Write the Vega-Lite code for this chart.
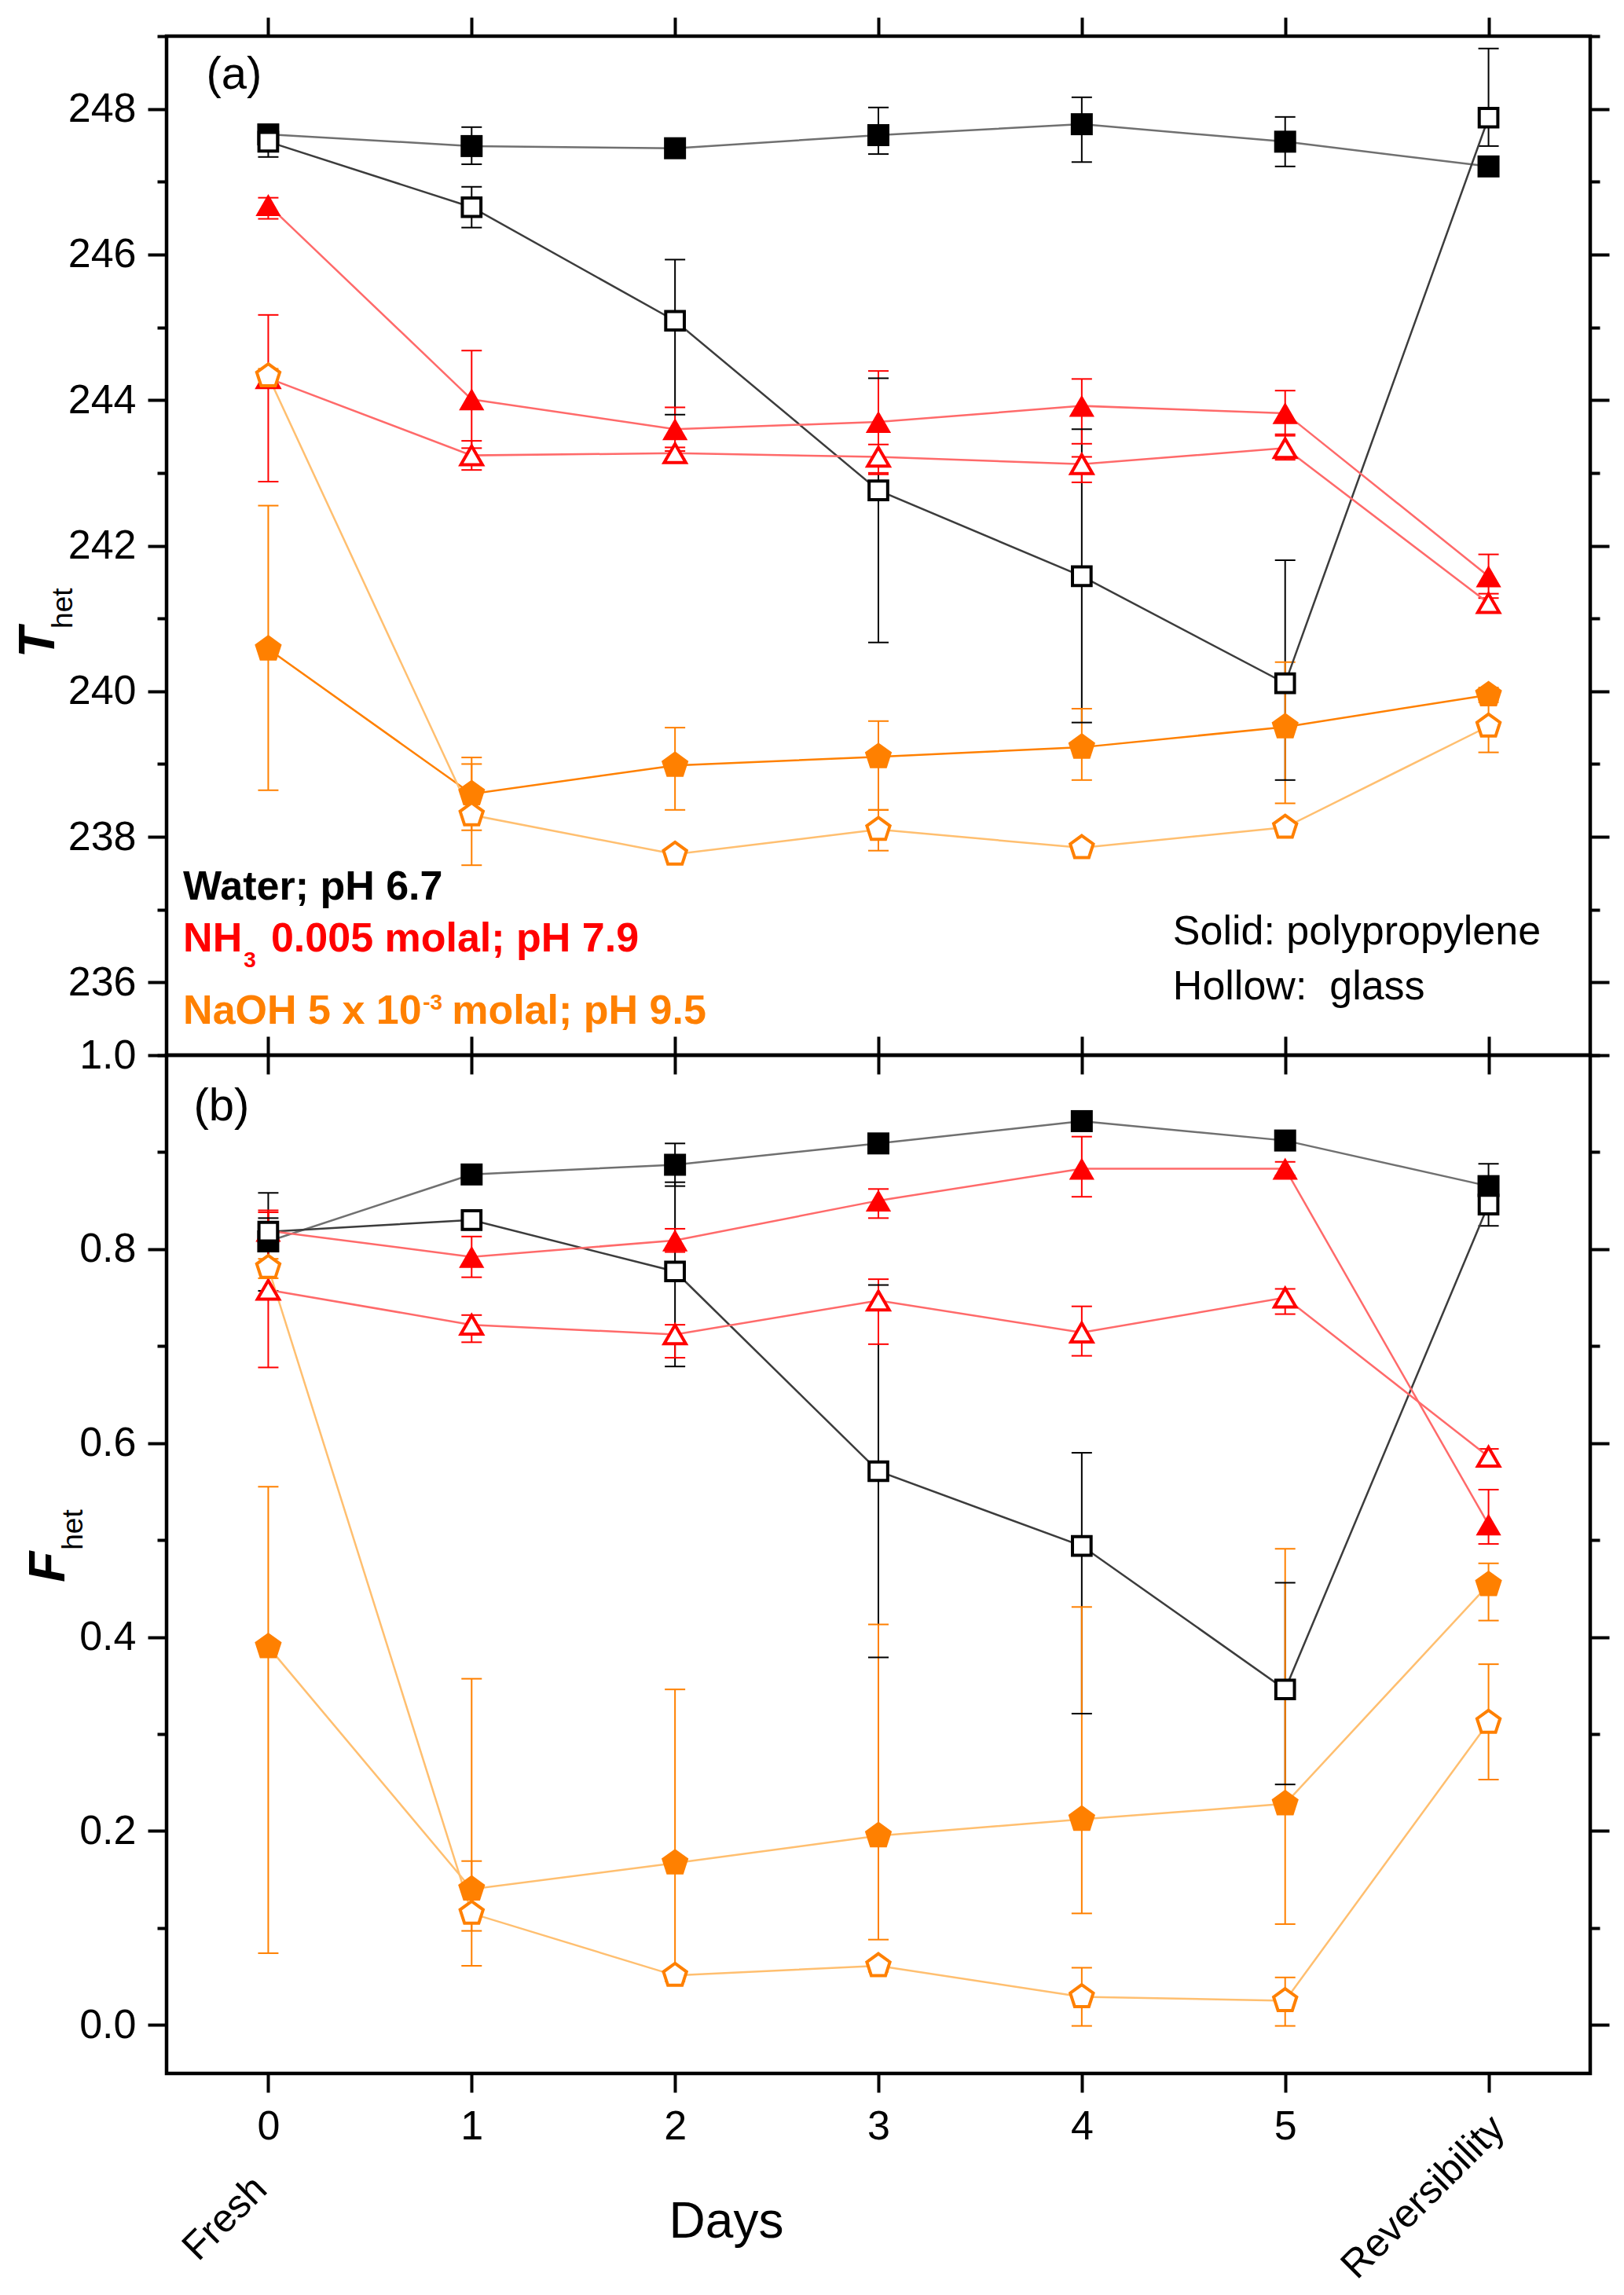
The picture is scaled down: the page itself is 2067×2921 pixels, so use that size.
{
  "$schema": "https://vega.github.io/schema/vega-lite/v6.json",
  "padding": {"left": 15, "top": 17, "right": 10, "bottom": 10},
  "background": "white",
  "config": {
    "font": "Liberation Sans",
    "view": {"stroke": "black", "strokeWidth": 4.5},
    "axis": {"labelFont": "Liberation Sans", "labelColor": "black", "tickColor": "black", "grid": false, "domain": false, "labelOverlap": false, "labelFlush": false, "labelBound": false}
  },
  "datasets": {
    "a": [
      {"x": 0, "s": "water", "m": "pp", "id": "water-pp", "v": 247.65, "lo": 247.55, "hi": 247.75},
      {"x": 1, "s": "water", "m": "pp", "id": "water-pp", "v": 247.49, "lo": 247.24, "hi": 247.75},
      {"x": 2, "s": "water", "m": "pp", "id": "water-pp", "v": 247.46, "lo": 247.41, "hi": 247.51},
      {"x": 3, "s": "water", "m": "pp", "id": "water-pp", "v": 247.64, "lo": 247.38, "hi": 248.02},
      {"x": 4, "s": "water", "m": "pp", "id": "water-pp", "v": 247.79, "lo": 247.27, "hi": 248.16},
      {"x": 5, "s": "water", "m": "pp", "id": "water-pp", "v": 247.55, "lo": 247.21, "hi": 247.89},
      {"x": 6, "s": "water", "m": "pp", "id": "water-pp", "v": 247.21, "lo": 247.16, "hi": 247.26},
      {"x": 0, "s": "water", "m": "glass", "id": "water-glass", "v": 247.55, "lo": 247.34, "hi": 247.7},
      {"x": 1, "s": "water", "m": "glass", "id": "water-glass", "v": 246.65, "lo": 246.37, "hi": 246.93},
      {"x": 2, "s": "water", "m": "glass", "id": "water-glass", "v": 245.09, "lo": 243.8, "hi": 245.93},
      {"x": 3, "s": "water", "m": "glass", "id": "water-glass", "v": 242.76, "lo": 240.67, "hi": 244.3},
      {"x": 4, "s": "water", "m": "glass", "id": "water-glass", "v": 241.58, "lo": 239.57, "hi": 243.6},
      {"x": 5, "s": "water", "m": "glass", "id": "water-glass", "v": 240.11, "lo": 238.78, "hi": 241.8},
      {"x": 6, "s": "water", "m": "glass", "id": "water-glass", "v": 247.88, "lo": 247.49, "hi": 248.83},
      {"x": 0, "s": "nh3", "m": "pp", "id": "nh3-pp", "v": 246.68, "lo": 246.49, "hi": 246.78},
      {"x": 1, "s": "nh3", "m": "pp", "id": "nh3-pp", "v": 244.01, "lo": 243.34, "hi": 244.68},
      {"x": 2, "s": "nh3", "m": "pp", "id": "nh3-pp", "v": 243.6, "lo": 243.3, "hi": 243.9},
      {"x": 3, "s": "nh3", "m": "pp", "id": "nh3-pp", "v": 243.7, "lo": 243.0, "hi": 244.4},
      {"x": 4, "s": "nh3", "m": "pp", "id": "nh3-pp", "v": 243.92, "lo": 243.4, "hi": 244.29},
      {"x": 5, "s": "nh3", "m": "pp", "id": "nh3-pp", "v": 243.82, "lo": 243.51, "hi": 244.13},
      {"x": 6, "s": "nh3", "m": "pp", "id": "nh3-pp", "v": 241.58, "lo": 241.28, "hi": 241.88},
      {"x": 0, "s": "nh3", "m": "glass", "id": "nh3-glass", "v": 244.3, "lo": 242.88, "hi": 245.17},
      {"x": 1, "s": "nh3", "m": "glass", "id": "nh3-glass", "v": 243.24, "lo": 243.04, "hi": 243.44},
      {"x": 2, "s": "nh3", "m": "glass", "id": "nh3-glass", "v": 243.27, "lo": 243.19, "hi": 243.35},
      {"x": 3, "s": "nh3", "m": "glass", "id": "nh3-glass", "v": 243.22, "lo": 242.98, "hi": 243.39},
      {"x": 4, "s": "nh3", "m": "glass", "id": "nh3-glass", "v": 243.12, "lo": 242.87, "hi": 243.22},
      {"x": 5, "s": "nh3", "m": "glass", "id": "nh3-glass", "v": 243.34, "lo": 243.18, "hi": 243.53},
      {"x": 6, "s": "nh3", "m": "glass", "id": "nh3-glass", "v": 241.21, "lo": 241.08, "hi": 241.34},
      {"x": 0, "s": "naoh", "m": "pp", "id": "naoh-pp", "v": 240.58, "lo": 238.64, "hi": 242.55},
      {"x": 1, "s": "naoh", "m": "pp", "id": "naoh-pp", "v": 238.59, "lo": 238.09, "hi": 239.09},
      {"x": 2, "s": "naoh", "m": "pp", "id": "naoh-pp", "v": 238.98, "lo": 238.37, "hi": 239.5},
      {"x": 3, "s": "naoh", "m": "pp", "id": "naoh-pp", "v": 239.1, "lo": 238.37, "hi": 239.59},
      {"x": 4, "s": "naoh", "m": "pp", "id": "naoh-pp", "v": 239.23, "lo": 238.78, "hi": 239.76},
      {"x": 5, "s": "naoh", "m": "pp", "id": "naoh-pp", "v": 239.51, "lo": 238.46, "hi": 240.4},
      {"x": 6, "s": "naoh", "m": "pp", "id": "naoh-pp", "v": 239.95, "lo": 239.85, "hi": 240.05},
      {"x": 0, "s": "naoh", "m": "glass", "id": "naoh-glass", "v": 244.33, "lo": 244.23, "hi": 244.43},
      {"x": 1, "s": "naoh", "m": "glass", "id": "naoh-glass", "v": 238.3, "lo": 237.61, "hi": 239.0},
      {"x": 2, "s": "naoh", "m": "glass", "id": "naoh-glass", "v": 237.76, "lo": 237.7, "hi": 237.82},
      {"x": 3, "s": "naoh", "m": "glass", "id": "naoh-glass", "v": 238.1, "lo": 237.81, "hi": 238.37},
      {"x": 4, "s": "naoh", "m": "glass", "id": "naoh-glass", "v": 237.85, "lo": 237.8, "hi": 237.9},
      {"x": 5, "s": "naoh", "m": "glass", "id": "naoh-glass", "v": 238.13, "lo": 238.08, "hi": 238.18},
      {"x": 6, "s": "naoh", "m": "glass", "id": "naoh-glass", "v": 239.52, "lo": 239.16, "hi": 239.88}
    ],
    "b": [
      {"x": 0, "s": "water", "m": "pp", "id": "water-pp", "v": 0.808, "lo": 0.785, "hi": 0.832},
      {"x": 1, "s": "water", "m": "pp", "id": "water-pp", "v": 0.877, "lo": 0.87, "hi": 0.884},
      {"x": 2, "s": "water", "m": "pp", "id": "water-pp", "v": 0.887, "lo": 0.865, "hi": 0.909},
      {"x": 3, "s": "water", "m": "pp", "id": "water-pp", "v": 0.909, "lo": 0.899, "hi": 0.919},
      {"x": 4, "s": "water", "m": "pp", "id": "water-pp", "v": 0.932, "lo": 0.924, "hi": 0.94},
      {"x": 5, "s": "water", "m": "pp", "id": "water-pp", "v": 0.912, "lo": 0.903, "hi": 0.921},
      {"x": 6, "s": "water", "m": "pp", "id": "water-pp", "v": 0.865, "lo": 0.842, "hi": 0.888},
      {"x": 0, "s": "water", "m": "glass", "id": "water-glass", "v": 0.818, "lo": 0.757, "hi": 0.858},
      {"x": 1, "s": "water", "m": "glass", "id": "water-glass", "v": 0.83, "lo": 0.82, "hi": 0.84},
      {"x": 2, "s": "water", "m": "glass", "id": "water-glass", "v": 0.777, "lo": 0.679, "hi": 0.869},
      {"x": 3, "s": "water", "m": "glass", "id": "water-glass", "v": 0.571, "lo": 0.379, "hi": 0.763},
      {"x": 4, "s": "water", "m": "glass", "id": "water-glass", "v": 0.494, "lo": 0.321, "hi": 0.59},
      {"x": 5, "s": "water", "m": "glass", "id": "water-glass", "v": 0.346, "lo": 0.248, "hi": 0.456},
      {"x": 6, "s": "water", "m": "glass", "id": "water-glass", "v": 0.846, "lo": 0.824, "hi": 0.868},
      {"x": 0, "s": "nh3", "m": "pp", "id": "nh3-pp", "v": 0.819, "lo": 0.8, "hi": 0.84},
      {"x": 1, "s": "nh3", "m": "pp", "id": "nh3-pp", "v": 0.792, "lo": 0.771, "hi": 0.813},
      {"x": 2, "s": "nh3", "m": "pp", "id": "nh3-pp", "v": 0.809, "lo": 0.797, "hi": 0.821},
      {"x": 3, "s": "nh3", "m": "pp", "id": "nh3-pp", "v": 0.85, "lo": 0.832, "hi": 0.862},
      {"x": 4, "s": "nh3", "m": "pp", "id": "nh3-pp", "v": 0.883, "lo": 0.854, "hi": 0.916},
      {"x": 5, "s": "nh3", "m": "pp", "id": "nh3-pp", "v": 0.883, "lo": 0.876, "hi": 0.89},
      {"x": 6, "s": "nh3", "m": "pp", "id": "nh3-pp", "v": 0.516, "lo": 0.496, "hi": 0.552},
      {"x": 0, "s": "nh3", "m": "glass", "id": "nh3-glass", "v": 0.758, "lo": 0.678, "hi": 0.838},
      {"x": 1, "s": "nh3", "m": "glass", "id": "nh3-glass", "v": 0.722, "lo": 0.704, "hi": 0.732},
      {"x": 2, "s": "nh3", "m": "glass", "id": "nh3-glass", "v": 0.712, "lo": 0.688, "hi": 0.722},
      {"x": 3, "s": "nh3", "m": "glass", "id": "nh3-glass", "v": 0.747, "lo": 0.702, "hi": 0.769},
      {"x": 4, "s": "nh3", "m": "glass", "id": "nh3-glass", "v": 0.714, "lo": 0.69, "hi": 0.741},
      {"x": 5, "s": "nh3", "m": "glass", "id": "nh3-glass", "v": 0.75, "lo": 0.733, "hi": 0.759},
      {"x": 6, "s": "nh3", "m": "glass", "id": "nh3-glass", "v": 0.586, "lo": 0.578, "hi": 0.594},
      {"x": 0, "s": "naoh", "m": "pp", "id": "naoh-pp", "v": 0.39, "lo": 0.074, "hi": 0.555},
      {"x": 1, "s": "naoh", "m": "pp", "id": "naoh-pp", "v": 0.14, "lo": 0.097, "hi": 0.357},
      {"x": 2, "s": "naoh", "m": "pp", "id": "naoh-pp", "v": 0.167, "lo": 0.055, "hi": 0.346},
      {"x": 3, "s": "naoh", "m": "pp", "id": "naoh-pp", "v": 0.195, "lo": 0.088, "hi": 0.413},
      {"x": 4, "s": "naoh", "m": "pp", "id": "naoh-pp", "v": 0.212, "lo": 0.115, "hi": 0.431},
      {"x": 5, "s": "naoh", "m": "pp", "id": "naoh-pp", "v": 0.228, "lo": 0.104, "hi": 0.491},
      {"x": 6, "s": "naoh", "m": "pp", "id": "naoh-pp", "v": 0.454, "lo": 0.417, "hi": 0.476},
      {"x": 0, "s": "naoh", "m": "glass", "id": "naoh-glass", "v": 0.781, "lo": 0.77, "hi": 0.79},
      {"x": 1, "s": "naoh", "m": "glass", "id": "naoh-glass", "v": 0.115, "lo": 0.061, "hi": 0.169},
      {"x": 2, "s": "naoh", "m": "glass", "id": "naoh-glass", "v": 0.051, "lo": 0.045, "hi": 0.057},
      {"x": 3, "s": "naoh", "m": "glass", "id": "naoh-glass", "v": 0.061, "lo": 0.055, "hi": 0.067},
      {"x": 4, "s": "naoh", "m": "glass", "id": "naoh-glass", "v": 0.029, "lo": -0.001, "hi": 0.059},
      {"x": 5, "s": "naoh", "m": "glass", "id": "naoh-glass", "v": 0.025, "lo": -0.001, "hi": 0.049},
      {"x": 6, "s": "naoh", "m": "glass", "id": "naoh-glass", "v": 0.312, "lo": 0.253, "hi": 0.372}
    ]
  },
  "resolve": {"scale": {"stroke": "independent"}},
  "vconcat": [
    {
      "width": 1812,
      "height": 1297,
      "data": {"name": "a"},
      "resolve": {"axis": {"x": "independent", "y": "independent"}, "scale": {"size": "independent"}},
      "layer": [
        {
          "mark": {"type": "rule", "strokeWidth": 2, "opacity": 1},
          "encoding": {
            "x": {"field": "x", "type": "quantitative", "scale": {"domain": [-0.5, 6.5], "nice": false, "zero": false},
              "axis": {"orient": "top", "values": [0, 1, 2, 3, 4, 5, 6], "labels": false, "tickSize": 24, "tickWidth": 4, "title": null}},
            "y": {"field": "lo", "type": "quantitative", "scale": {"domain": [235, 249], "nice": false, "zero": false},
              "axis": {"orient": "right", "values": [235, 236, 237, 238, 239, 240, 241, 242, 243, 244, 245, 246, 247, 248, 249], "labels": false, "tickWidth": 4, "title": null,
                "tickSize": {"condition": {"test": "datum.value % 2 == 0", "value": 24}, "value": 12}}},
            "y2": {"field": "hi"},
            "color": {"field": "s", "type": "nominal", "scale": {"domain": ["water", "nh3", "naoh"], "range": ["#000000", "#ff0000", "#ff8000"]}, "legend": null}
          }
        },
        {
          "mark": {"type": "tick", "orient": "horizontal", "size": 26, "thickness": 2, "opacity": 1},
          "encoding": {
            "x": {"field": "x", "type": "quantitative", "axis": null},
            "y": {"field": "lo", "type": "quantitative", "axis": null},
            "color": {"field": "s", "type": "nominal", "legend": null}
          }
        },
        {
          "mark": {"type": "tick", "orient": "horizontal", "size": 26, "thickness": 2, "opacity": 1},
          "encoding": {
            "x": {"field": "x", "type": "quantitative", "axis": null},
            "y": {"field": "hi", "type": "quantitative", "axis": null},
            "color": {"field": "s", "type": "nominal", "legend": null}
          }
        },
        {
          "mark": {"type": "line", "strokeWidth": 2.5},
          "encoding": {
            "x": {"field": "x", "type": "quantitative",
              "axis": {"orient": "bottom", "values": [0, 1, 2, 3, 4, 5, 6], "labels": false, "tickSize": 24, "tickWidth": 4, "title": null}},
            "y": {"field": "v", "type": "quantitative",
              "axis": {"orient": "left", "values": [235, 236, 237, 238, 239, 240, 241, 242, 243, 244, 245, 246, 247, 248, 249], "format": "d",
                "labelExpr": "datum.value % 2 == 0 ? datum.label : ''", "labelFontSize": 52, "labelPadding": 15, "tickWidth": 4, "title": null,
                "tickSize": {"condition": {"test": "datum.value % 2 == 0", "value": 24}, "value": 12}}},
            "stroke": {"field": "id", "type": "nominal", "legend": null,
              "scale": {"domain": ["water-pp", "water-glass", "nh3-pp", "nh3-glass", "naoh-pp", "naoh-glass"],
                "range": ["#707070", "#3c3c3c", "#ff6a6a", "#ff6a6a", "#ff8000", "#ffbf70"]}}
          }
        },
        {
          "transform": [{"filter": "datum.m == 'pp'"}],
          "mark": {"type": "point", "filled": true, "opacity": 1},
          "encoding": {
            "x": {"field": "x", "type": "quantitative", "axis": null},
            "y": {"field": "v", "type": "quantitative", "axis": null},
            "color": {"field": "s", "type": "nominal", "legend": null},
            "shape": {"field": "s", "type": "nominal", "legend": null,
              "scale": {"domain": ["water", "nh3", "naoh"], "range": ["square", "triangle-up", "M0,-1L0.951,-0.309L0.588,0.809L-0.588,0.809L-0.951,-0.309Z"]}},
            "size": {"field": "s", "type": "nominal", "legend": null, "scale": {"domain": ["water", "nh3", "naoh"], "range": [784, 1300, 1350]}}
          }
        },
        {
          "transform": [{"filter": "datum.m == 'glass'"}],
          "mark": {"type": "point", "filled": false, "fill": "white", "strokeWidth": 4, "opacity": 1},
          "encoding": {
            "x": {"field": "x", "type": "quantitative", "axis": null},
            "y": {"field": "v", "type": "quantitative", "axis": null},
            "color": {"field": "s", "type": "nominal", "legend": null},
            "shape": {"field": "s", "type": "nominal", "legend": null},
            "size": {"field": "s", "type": "nominal", "legend": null, "scale": {"domain": ["water", "nh3", "naoh"], "range": [560, 950, 950]}}
          }
        },
        {
          "data": {"values": [{}]},
          "mark": {"type": "text", "text": "(a)", "fontSize": 58, "align": "left", "baseline": "alphabetic", "color": "black"},
          "encoding": {"x": {"datum": -0.305, "type": "quantitative", "axis": null}, "y": {"datum": 248.28, "type": "quantitative", "axis": null}}
        },
        {
          "data": {"values": [{}]},
          "mark": {"type": "text", "text": "Water; pH 6.7", "fontSize": 52, "fontWeight": "bold", "align": "left", "baseline": "alphabetic", "color": "black"},
          "encoding": {"x": {"datum": -0.4185, "type": "quantitative", "axis": null}, "y": {"datum": 237.14, "type": "quantitative", "axis": null}}
        },
        {
          "data": {"values": [{}]},
          "mark": {"type": "text", "text": "NH", "fontSize": 52, "fontWeight": "bold", "align": "left", "baseline": "alphabetic", "color": "#ff0000"},
          "encoding": {"x": {"datum": -0.4185, "type": "quantitative", "axis": null}, "y": {"datum": 236.42, "type": "quantitative", "axis": null}}
        },
        {
          "data": {"values": [{}]},
          "mark": {"type": "text", "text": "3", "fontSize": 28, "fontWeight": "bold", "align": "left", "baseline": "alphabetic", "color": "#ff0000"},
          "encoding": {"x": {"datum": -0.12, "type": "quantitative", "axis": null}, "y": {"datum": 236.21, "type": "quantitative", "axis": null}}
        },
        {
          "data": {"values": [{}]},
          "mark": {"type": "text", "text": "0.005 molal; pH 7.9", "fontSize": 52, "fontWeight": "bold", "align": "left", "baseline": "alphabetic", "color": "#ff0000"},
          "encoding": {"x": {"datum": 0.0135, "type": "quantitative", "axis": null}, "y": {"datum": 236.42, "type": "quantitative", "axis": null}}
        },
        {
          "data": {"values": [{}]},
          "mark": {"type": "text", "text": "NaOH 5 x 10", "fontSize": 52, "fontWeight": "bold", "align": "left", "baseline": "alphabetic", "color": "#ff8000"},
          "encoding": {"x": {"datum": -0.4185, "type": "quantitative", "axis": null}, "y": {"datum": 235.43, "type": "quantitative", "axis": null}}
        },
        {
          "data": {"values": [{}]},
          "mark": {"type": "text", "text": "-3", "fontSize": 28, "fontWeight": "bold", "align": "left", "baseline": "alphabetic", "color": "#ff8000"},
          "encoding": {"x": {"datum": 0.76, "type": "quantitative", "axis": null}, "y": {"datum": 235.63, "type": "quantitative", "axis": null}}
        },
        {
          "data": {"values": [{}]},
          "mark": {"type": "text", "text": "molal; pH 9.5", "fontSize": 52, "fontWeight": "bold", "align": "left", "baseline": "alphabetic", "color": "#ff8000"},
          "encoding": {"x": {"datum": 0.903, "type": "quantitative", "axis": null}, "y": {"datum": 235.43, "type": "quantitative", "axis": null}}
        },
        {
          "data": {"values": [{}]},
          "mark": {"type": "text", "text": "Solid: polypropylene", "fontSize": 52, "align": "left", "baseline": "alphabetic", "color": "black"},
          "encoding": {"x": {"datum": 4.448, "type": "quantitative", "axis": null}, "y": {"datum": 236.52, "type": "quantitative", "axis": null}}
        },
        {
          "data": {"values": [{}]},
          "mark": {"type": "text", "text": "Hollow:\u00a0 glass", "fontSize": 52, "align": "left", "baseline": "alphabetic", "color": "black"},
          "encoding": {"x": {"datum": 4.448, "type": "quantitative", "axis": null}, "y": {"datum": 235.77, "type": "quantitative", "axis": null}}
        },
        {
          "data": {"values": [{}]},
          "mark": {"type": "text", "text": "T", "fontSize": 64, "fontStyle": "italic", "fontWeight": "bold", "angle": 270, "align": "center", "baseline": "alphabetic", "color": "black"},
          "encoding": {"x": {"datum": -1.054, "type": "quantitative", "axis": null}, "y": {"datum": 240.67, "type": "quantitative", "axis": null}}
        },
        {
          "data": {"values": [{}]},
          "mark": {"type": "text", "text": "het", "fontSize": 37, "angle": 270, "align": "center", "baseline": "alphabetic", "color": "black"},
          "encoding": {"x": {"datum": -0.965, "type": "quantitative", "axis": null}, "y": {"datum": 241.14, "type": "quantitative", "axis": null}}
        }
      ]
    },
    {
      "width": 1812,
      "height": 1296,
      "data": {"name": "b"},
      "resolve": {"axis": {"x": "independent", "y": "independent"}, "scale": {"size": "independent"}},
      "layer": [
        {
          "mark": {"type": "rule", "strokeWidth": 2, "opacity": 1},
          "encoding": {
            "x": {"field": "x", "type": "quantitative", "scale": {"domain": [-0.5, 6.5], "nice": false, "zero": false},
              "axis": {"orient": "top", "values": [0, 1, 2, 3, 4, 5, 6], "labels": false, "tickSize": 24, "tickWidth": 4, "title": null}},
            "y": {"field": "lo", "type": "quantitative", "scale": {"domain": [-0.05, 1.0], "nice": false, "zero": false},
              "axis": {"orient": "right", "values": [0, 0.1, 0.2, 0.3, 0.4, 0.5, 0.6, 0.7, 0.8, 0.9, 1.0], "labels": false, "tickWidth": 4, "title": null,
                "tickSize": {"condition": {"test": "round(datum.value * 10) % 2 == 0", "value": 24}, "value": 12}}},
            "y2": {"field": "hi"},
            "color": {"field": "s", "type": "nominal", "scale": {"domain": ["water", "nh3", "naoh"], "range": ["#000000", "#ff0000", "#ff8000"]}, "legend": null}
          }
        },
        {
          "mark": {"type": "tick", "orient": "horizontal", "size": 26, "thickness": 2, "opacity": 1},
          "encoding": {
            "x": {"field": "x", "type": "quantitative", "axis": null},
            "y": {"field": "lo", "type": "quantitative", "axis": null},
            "color": {"field": "s", "type": "nominal", "legend": null}
          }
        },
        {
          "mark": {"type": "tick", "orient": "horizontal", "size": 26, "thickness": 2, "opacity": 1},
          "encoding": {
            "x": {"field": "x", "type": "quantitative", "axis": null},
            "y": {"field": "hi", "type": "quantitative", "axis": null},
            "color": {"field": "s", "type": "nominal", "legend": null}
          }
        },
        {
          "mark": {"type": "line", "strokeWidth": 2.5},
          "encoding": {
            "x": {"field": "x", "type": "quantitative",
              "axis": {"orient": "bottom", "values": [0, 1, 2, 3, 4, 5, 6], "labelExpr": "datum.value < 6 ? datum.label : ''", "labelFontSize": 52, "labelPadding": 18,
                "tickSize": 24, "tickWidth": 4,
                "title": "Days", "titleFont": "Liberation Sans", "titleFontSize": 64, "titleFontWeight": "normal", "titleColor": "black",
                "titleX": 712, "titleY": 208, "titleAlign": "center", "titleBaseline": "alphabetic"}},
            "y": {"field": "v", "type": "quantitative",
              "axis": {"orient": "left", "values": [0, 0.1, 0.2, 0.3, 0.4, 0.5, 0.6, 0.7, 0.8, 0.9, 1.0], "format": ".1f",
                "labelExpr": "round(datum.value * 10) % 2 == 0 ? datum.label : ''", "labelFontSize": 52, "labelPadding": 15, "tickWidth": 4, "title": null,
                "tickSize": {"condition": {"test": "round(datum.value * 10) % 2 == 0", "value": 24}, "value": 12}}},
            "stroke": {"field": "id", "type": "nominal", "legend": null,
              "scale": {"domain": ["water-pp", "water-glass", "nh3-pp", "nh3-glass", "naoh-pp", "naoh-glass"],
                "range": ["#707070", "#3c3c3c", "#ff6a6a", "#ff6a6a", "#ffbf70", "#ffbf70"]}}
          }
        },
        {
          "transform": [{"filter": "datum.m == 'pp'"}],
          "mark": {"type": "point", "filled": true, "opacity": 1},
          "encoding": {
            "x": {"field": "x", "type": "quantitative",
              "axis": {"orient": "bottom", "values": [0, 6], "labelExpr": "datum.value == 0 ? 'Fresh' : 'Reversibility'", "labelAngle": -45,
                "labelAlign": "right", "labelBaseline": "middle", "labelFontSize": 50, "labelLimit": 0, "ticks": false, "tickSize": 0, "title": null,
                "labelPadding": {"condition": {"test": "datum.value == 0", "value": 139}, "value": 62},
                "labelOffset": {"condition": {"test": "datum.value == 0", "value": -10}, "value": 12}}},
            "y": {"field": "v", "type": "quantitative", "axis": null},
            "color": {"field": "s", "type": "nominal", "legend": null},
            "shape": {"field": "s", "type": "nominal", "legend": null,
              "scale": {"domain": ["water", "nh3", "naoh"], "range": ["square", "triangle-up", "M0,-1L0.951,-0.309L0.588,0.809L-0.588,0.809L-0.951,-0.309Z"]}},
            "size": {"field": "s", "type": "nominal", "legend": null, "scale": {"domain": ["water", "nh3", "naoh"], "range": [784, 1300, 1350]}}
          }
        },
        {
          "transform": [{"filter": "datum.m == 'glass'"}],
          "mark": {"type": "point", "filled": false, "fill": "white", "strokeWidth": 4, "opacity": 1},
          "encoding": {
            "x": {"field": "x", "type": "quantitative", "axis": null},
            "y": {"field": "v", "type": "quantitative", "axis": null},
            "color": {"field": "s", "type": "nominal", "legend": null},
            "shape": {"field": "s", "type": "nominal", "legend": null},
            "size": {"field": "s", "type": "nominal", "legend": null, "scale": {"domain": ["water", "nh3", "naoh"], "range": [560, 950, 950]}}
          }
        },
        {
          "data": {"values": [{}]},
          "mark": {"type": "text", "text": "(b)", "fontSize": 58, "align": "left", "baseline": "alphabetic", "color": "black"},
          "encoding": {"x": {"datum": -0.367, "type": "quantitative", "axis": null}, "y": {"datum": 0.933, "type": "quantitative", "axis": null}}
        },
        {
          "data": {"values": [{}]},
          "mark": {"type": "text", "text": "F", "fontSize": 64, "fontStyle": "italic", "fontWeight": "bold", "angle": 270, "align": "center", "baseline": "alphabetic", "color": "black"},
          "encoding": {"x": {"datum": -1.004, "type": "quantitative", "axis": null}, "y": {"datum": 0.4725, "type": "quantitative", "axis": null}}
        },
        {
          "data": {"values": [{}]},
          "mark": {"type": "text", "text": "het", "fontSize": 37, "angle": 270, "align": "center", "baseline": "alphabetic", "color": "black"},
          "encoding": {"x": {"datum": -0.915, "type": "quantitative", "axis": null}, "y": {"datum": 0.5106, "type": "quantitative", "axis": null}}
        }
      ]
    }
  ],
  "spacing": 0,
  "bounds": "flush"
}
